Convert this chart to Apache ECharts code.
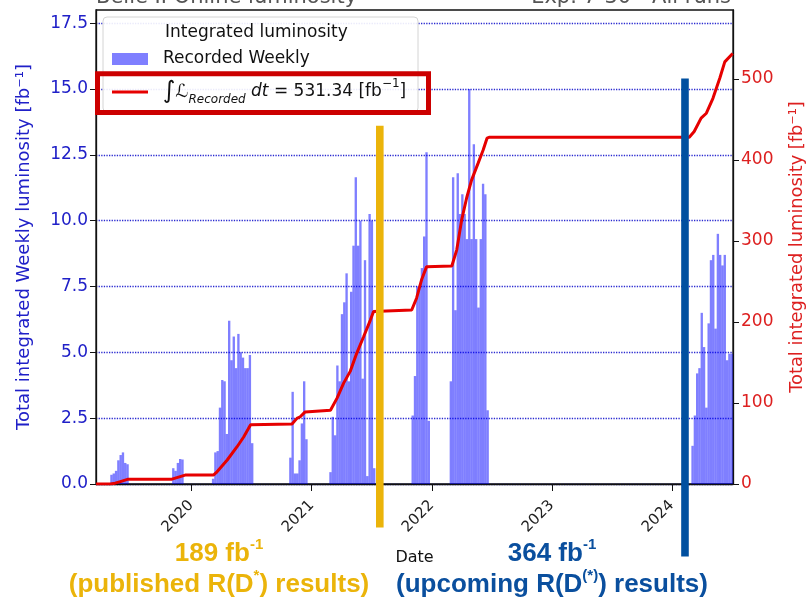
<!DOCTYPE html>
<html>
<head>
<meta charset="utf-8">
<script src="https://cdn.jsdelivr.net/npm/echarts@6/dist/echarts.min.js"></script>
<style>
  html, body { margin: 0; padding: 0; background: #fff; }
  #main { width: 808px; height: 598px; }
</style>
</head>
<body>
<div id="main"></div>
<script>
// weekly recorded luminosity [fb^-1], one value per week, grouped by run period
const runStarts = ['2019-05-03', '2019-11-07', '2020-03-07', '2020-10-28', '2021-02-27', '2021-11-04', '2022-02-28', '2024-03-04']
const run2019a = [0.35, 0.4, 0.5, 0.9, 1.1, 1.2, 0.8, 0.75]
const run2019b = [0.6, 0.5, 0.8, 0.95, 0.93]
const run2020a = [0.2, 1.2, 1.25, 2.9, 3.95, 3.9, 1.9, 6.2, 4.7, 5.6, 4.4, 5.7, 5.0, 4.8, 4.4, 4.4, 4.9, 1.55]
const run2020b = [1.0, 3.5, 0.4, 0.4, 0.9, 2.3, 3.9, 1.7]
const run2021a = [0.45, 2.55, 1.85, 4.5, 3.9, 6.45, 6.9, 8.0, 3.9, 7.3, 9.05, 11.65, 9.05, 10.0, 4.0, 8.5, 0.3, 10.25, 10.0, 0.6]
const run2021b = [2.6, 4.1, 7.5, 7.5, 8.2, 9.4, 12.6, 2.4]
const run2022 = [3.9, 11.65, 6.6, 11.8, 10.25, 11.0, 10.25, 9.3, 15.0, 9.3, 12.9, 9.3, 6.7, 9.3, 11.4, 11.0, 2.8]
const run2024 = [1.45, 2.6, 4.2, 4.4, 6.5, 5.2, 2.9, 6.1, 8.5, 8.7, 5.9, 9.5, 8.7, 8.3, 8.7, 4.7, 4.95, 4.95]
const runs = [run2019a, run2019b, run2020a, run2020b, run2021a, run2021b, run2022, run2024]

// total integrated luminosity [fb^-1]
const cumulative = [
  ['2019-03-17', 0], ['2019-04-29', 0], ['2019-05-14', 1], ['2019-05-30', 3], ['2019-06-23', 6],
  ['2019-11-03', 6], ['2019-12-13', 11], ['2020-03-08', 11], ['2020-03-19', 15], ['2020-04-19', 29.6],
  ['2020-05-19', 46], ['2020-06-08', 58], ['2020-06-29', 73], ['2020-07-03', 74], ['2020-11-02', 74],
  ['2020-11-17', 81], ['2020-11-27', 83], ['2020-12-12', 89], ['2020-12-16', 90], ['2021-02-27', 91],
  ['2021-03-19', 106], ['2021-04-08', 124.5], ['2021-04-28', 139], ['2021-05-18', 161.6], ['2021-06-08', 182],
  ['2021-06-28', 202], ['2021-07-08', 213], ['2021-11-01', 214.8], ['2021-11-16', 229.6], ['2021-12-01', 252],
  ['2021-12-16', 268], ['2022-03-03', 269], ['2022-03-18', 289], ['2022-04-02', 326], ['2022-04-17', 353],
  ['2022-05-02', 375], ['2022-05-22', 396], ['2022-06-06', 412], ['2022-06-18', 426.8], ['2022-06-26', 428],
  ['2024-02-23', 428], ['2024-03-09', 435], ['2024-03-30', 451.5], ['2024-04-15', 457.6], ['2024-05-05', 476],
  ['2024-05-26', 501], ['2024-06-10', 521], ['2024-07-04', 531.34]
]
const totalLumi = '531.34'

const yearTicks = ['2020-01-01', '2021-01-01', '2022-01-01', '2023-01-01', '2024-01-01']
const leftTicks = [0, 2.5, 5, 7.5, 10, 12.5, 15, 17.5]
const rightTicks = [0, 100, 200, 300, 400, 500]

// result markers: [date, top, bottom] in left-axis units
const published = ['2021-07-27', 13.6, -1.65]
const upcoming = ['2024-02-10', 15.4, -2.75]

const WEEK = 7 * 24 * 3600 * 1000
var weekly = []
runs.forEach(function(vals, i) {
  const t0 = Date.parse(runStarts[i])
  vals.forEach(function(v, k) { weekly.push([t0 + k * WEEK, v]) })
})
const cumData = cumulative.map(function(d) { return [Date.parse(d[0]), d[1]] })
const yearValues = yearTicks.map(function(d) { return Date.parse(d) })

const FONT = 'DejaVu Sans'
const BLUE = '#2020c8'
const RED = '#dd2020'

var chart = echarts.init(document.getElementById('main'))
chart.setOption({
  animation: false,
  grid: {
    left: 96, right: 75, top: 10, bottom: 114,
    outerBoundsMode: 'none',
    containLabel: false,
    show: true, borderColor: '#111', borderWidth: 1.3
  },
  xAxis: {
    type: 'value',
    min: Date.parse('2019-03-17'),
    max: Date.parse('2024-07-05'),
    scale: true,
    name: 'Date',
    nameLocation: 'middle',
    nameGap: 66,
    nameTextStyle: { fontFamily: FONT, fontSize: 16, color: '#111' },
    axisLine: { lineStyle: { color: '#111', width: 1.3 } },
    axisTick: { customValues: yearValues, length: 7, lineStyle: { color: '#111' } },
    axisLabel: {
      customValues: yearValues,
      rotate: 45,
      margin: 19,
      fontFamily: FONT,
      fontSize: 15,
      color: '#222',
      formatter: function(v) { return String(new Date(v).getUTCFullYear()) }
    },
    splitLine: { show: false }
  },
  yAxis: [
    {
      type: 'value',
      min: 0,
      max: 18,
      interval: 2.5,
      name: 'Total integrated Weekly luminosity [fb⁻¹]',
      nameLocation: 'middle',
      nameRotate: 90,
      nameGap: 63,
      nameTextStyle: { fontFamily: FONT, fontSize: 18, color: BLUE },
      axisLine: { show: true, lineStyle: { color: '#111', width: 1.3 } },
      axisTick: { show: true, customValues: leftTicks, length: 6, lineStyle: { color: '#111' } },
      axisLabel: {
        customValues: leftTicks,
        fontFamily: FONT,
        fontSize: 17,
        color: BLUE,
        formatter: function(v) { return v.toFixed(1) }
      },
      splitLine: { show: true, lineStyle: { type: 'dotted', color: '#2a2ad0', width: 1.3 } }
    },
    {
      type: 'value',
      min: 0,
      max: 585,
      interval: 100,
      position: 'right',
      name: 'Total integrated luminosity [fb⁻¹]',
      nameLocation: 'middle',
      nameRotate: 90,
      nameGap: 55,
      nameTextStyle: { fontFamily: FONT, fontSize: 17.8, color: RED },
      axisLine: { show: true, lineStyle: { color: '#111', width: 1.3 } },
      axisTick: { show: true, customValues: rightTicks, length: 6, lineStyle: { color: '#111' } },
      axisLabel: { customValues: rightTicks, fontFamily: FONT, fontSize: 17, color: RED },
      splitLine: { show: false }
    }
  ],
  series: [
    {
      name: 'Recorded Weekly',
      type: 'bar',
      data: weekly,
      barWidth: 2.35,
      itemStyle: { color: 'rgba(0,0,255,0.5)' },
      z: 2
    },
    {
      name: 'Integrated',
      type: 'line',
      yAxisIndex: 1,
      data: cumData,
      showSymbol: false,
      lineStyle: { color: '#e60000', width: 3 },
      z: 3
    }
  ]
})

function marker(m, color) {
  const top = chart.convertToPixel({ gridIndex: 0 }, [Date.parse(m[0]), m[1]])
  const bot = chart.convertToPixel({ gridIndex: 0 }, [Date.parse(m[0]), m[2]])
  return {
    type: 'rect',
    z: 50,
    shape: { x: top[0] - 3.8, y: top[1], width: 7.6, height: bot[1] - top[1] },
    style: { fill: color }
  }
}

const GOLD = '#ebb40a'
const DBLUE = '#0a4f9e'
function bigText(x, y, text, color) {
  return {
    type: 'text', x: x, y: y, z: 60,
    style: {
      text: text, align: 'center', verticalAlign: 'middle',
      fill: color, font: 'bold 26px "Liberation Sans"',
      rich: {
        a: { fontFamily: 'Liberation Sans', fontWeight: 'bold', fontSize: 26, fill: color, verticalAlign: 'bottom', lineHeight: 30 },
        s: { fontFamily: 'Liberation Sans', fontWeight: 'bold', fontSize: 15, fill: color, verticalAlign: 'top', lineHeight: 30 }
      }
    }
  }
}

chart.setOption({
  graphic: [
    // chart titles, cut off at the top edge
    { type: 'text', x: 96, y: 8, z: 40, style: { text: 'Belle II Online luminosity', font: '21px "DejaVu Sans"', fill: '#555', verticalAlign: 'bottom' } },
    { type: 'text', x: 731, y: 8, z: 40, style: { text: 'Exp. 7-30 - All runs', font: '21px "DejaVu Sans"', fill: '#555', align: 'right', verticalAlign: 'bottom' } },
    // legend
    { type: 'rect', z: 40, shape: { x: 103, y: 17, width: 315, height: 95, r: 4 }, style: { fill: 'rgba(255,255,255,0.9)', stroke: '#d4d4d4', lineWidth: 1 } },
    { type: 'text', x: 165, y: 33, z: 41, style: { text: 'Integrated luminosity', font: '17px "DejaVu Sans"', fill: '#111', verticalAlign: 'middle' } },
    { type: 'rect', z: 41, shape: { x: 112, y: 53, width: 36, height: 12 }, style: { fill: 'rgba(0,0,255,0.5)' } },
    { type: 'text', x: 163, y: 59, z: 41, style: { text: 'Recorded Weekly', font: '17px "DejaVu Sans"', fill: '#111', verticalAlign: 'middle' } },
    { type: 'line', z: 41, shape: { x1: 112, y1: 92, x2: 148, y2: 92 }, style: { stroke: '#e60000', lineWidth: 3 } },
    {
      type: 'text', x: 163, y: 92, z: 41,
      style: {
        text: '{i|∫}{L|ℒ}{sub|Recorded}{n| }{it|dt}{n| = ' + totalLumi + ' [fb}{sup|−1}{n|]}',
        verticalAlign: 'middle',
        rich: {
          i: { fontFamily: FONT, fontSize: 24, fill: '#111', verticalAlign: 'middle', lineHeight: 28 },
          L: { fontFamily: FONT, fontSize: 18, fontStyle: 'italic', fill: '#111', verticalAlign: 'middle', lineHeight: 28 },
          sub: { fontFamily: FONT, fontSize: 12, fontStyle: 'italic', fill: '#111', verticalAlign: 'bottom', lineHeight: 22 },
          it: { fontFamily: FONT, fontSize: 17, fontStyle: 'italic', fill: '#111', verticalAlign: 'middle', lineHeight: 28 },
          n: { fontFamily: FONT, fontSize: 17, fill: '#111', verticalAlign: 'middle', lineHeight: 28 },
          sup: { fontFamily: FONT, fontSize: 12, fill: '#111', verticalAlign: 'top', lineHeight: 24 }
        }
      }
    },
    { type: 'rect', z: 45, shape: { x: 97.5, y: 73.7, width: 331, height: 38.8 }, style: { fill: 'none', stroke: '#cc0000', lineWidth: 5 } },
    // result markers
    marker(published, GOLD),
    marker(upcoming, '#0050a0'),
    bigText(219, 552, '{a|189 fb}{s|-1}', GOLD),
    bigText(219, 583, '{a|(published R(D}{s|*}{a|) results)}', GOLD),
    bigText(552, 552, '{a|364 fb}{s|-1}', DBLUE),
    bigText(552, 583, '{a|(upcoming R(D}{s|(*)}{a|) results)}', DBLUE)
  ]
})
</script>
</body>
</html>
